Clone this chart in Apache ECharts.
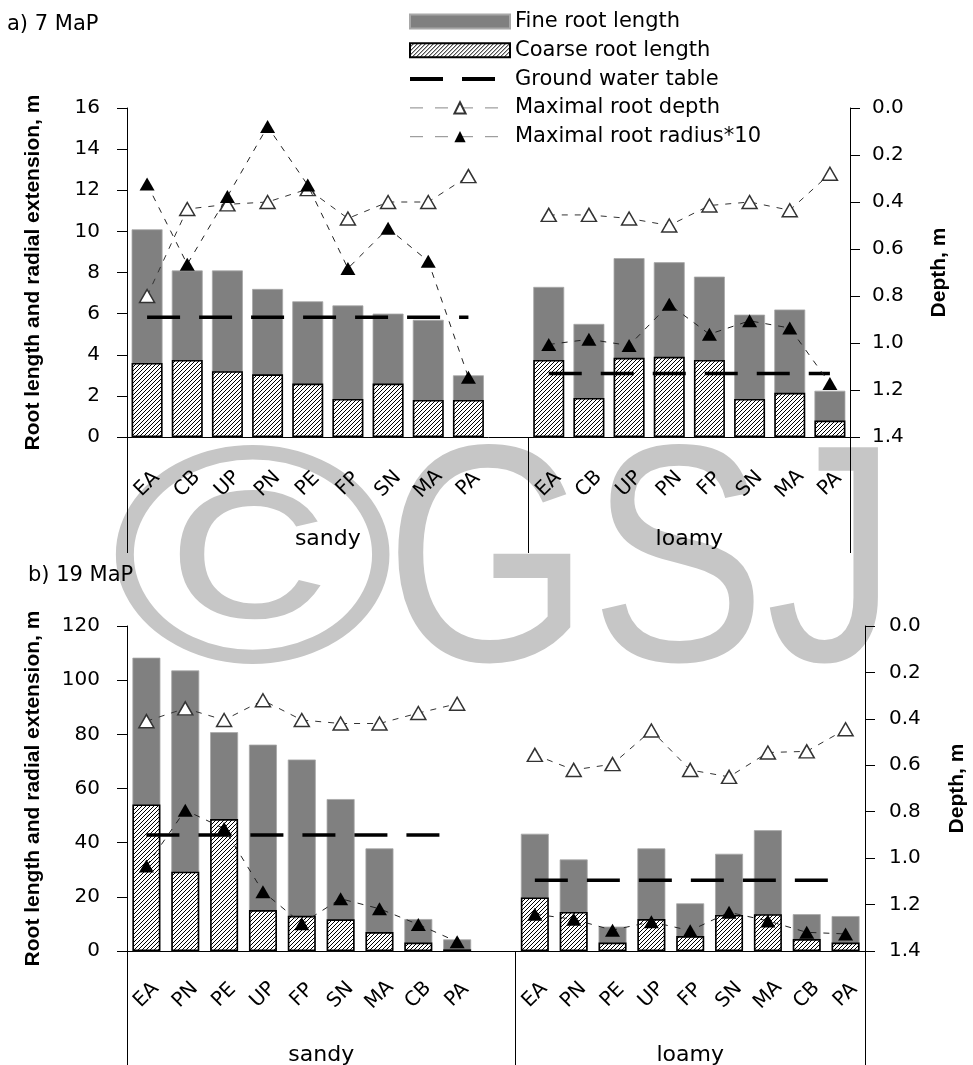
<!DOCTYPE html>
<html><head><meta charset="utf-8">
<script src="https://cdn.jsdelivr.net/npm/echarts@6/dist/echarts.min.js"></script>
<style>html,body{margin:0;padding:0;background:#fff}#c{width:973px;height:1065px}</style>
</head><body><div id="c"></div>
<script>
// ---------- data: panel a) 7 MaP ----------
const catsA   = ['EA','CB','UP','PN','PE','FP','SN','MA','PA','','EA','CB','UP','PN','FP','SN','MA','PA'];
const fineA   = [10.1, 8.1, 8.1, 7.2, 6.6, 6.4, 6.0, 5.7, 3.0, null, 7.3, 5.5, 8.7, 8.5, 7.8, 5.95, 6.2, 2.25];
const coarseA = [3.6, 3.75, 3.2, 3.05, 2.6, 1.85, 2.6, 1.8, 1.8, null, 3.75, 1.9, 3.85, 3.9, 3.75, 1.85, 2.15, 0.8];
const radiusA = [12.3, 8.4, 11.7, 15.1, 12.25, 8.2, 10.15, 8.55, 2.9, null, 4.5, 4.75, 4.45, 6.45, 5.0, 5.65, 5.3, 2.6];
const depthA  = [0.80, 0.43, 0.41, 0.40, 0.345, 0.47, 0.40, 0.40, 0.29, null, 0.455, 0.455, 0.47, 0.50, 0.415, 0.40, 0.435, 0.28];
const gwA     = [0.89, 0.89, 0.89, 0.89, 0.89, 0.89, 0.89, 0.89, 0.89, null, 1.13, 1.13, 1.13, 1.13, 1.13, 1.13, 1.13, 1.13];
const groupsA = ['sandy', 'loamy'];
const groupBoundsA = [0, 10, 18];
const groupMidA = [5, 14];

// ---------- data: panel b) 19 MaP ----------
const catsB   = ['EA','PN','PE','UP','FP','SN','MA','CB','PA','','EA','PN','PE','UP','FP','SN','MA','CB','PA'];
const fineB   = [108.3, 103.6, 80.8, 76.2, 70.7, 56.1, 37.9, 11.8, 4.3, null, 43.3, 33.8, 9.0, 37.9, 17.6, 35.9, 44.6, 13.6, 12.9];
const coarseB = [54.1, 29.3, 48.7, 15.1, 13.0, 11.7, 7.0, 3.1, 0.6, null, 19.8, 14.4, 3.1, 11.8, 5.5, 13.3, 13.6, 4.4, 3.1];
const radiusB = [31.4, 52.0, 45.2, 21.9, 10.1, 19.3, 15.6, 9.8, 3.4, null, 13.6, 11.7, 7.7, 10.8, 7.5, 14.3, 11.1, 6.9, 6.3];
const depthB  = [0.41, 0.355, 0.405, 0.32, 0.405, 0.42, 0.42, 0.375, 0.335, null, 0.555, 0.62, 0.595, 0.45, 0.62, 0.65, 0.545, 0.54, 0.445];
const gwB     = [0.90, 0.90, 0.90, 0.90, 0.90, 0.90, 0.90, 0.90, 0.90, null, 1.095, 1.095, 1.095, 1.095, 1.095, 1.095, 1.095, 1.095, 1.095];
const groupsB = ['sandy', 'loamy'];
const groupBoundsB = [0, 10, 19];
const groupMidB = [5, 14.5];

const names = ['Fine root length', 'Coarse root length', 'Ground water table', 'Maximal root depth', 'Maximal root radius*10'];
const titles = ['a) 7 MaP', 'b) 19 MaP'];
const leftName = 'Root length and radial extension, m';
const rightName = 'Depth, m';

// ---------- styles ----------
const HF = 'DejaVu Sans';
const VF = 'Liberation Sans';
function hatch() {
  const c = document.createElement('canvas'); c.width = 4; c.height = 4;
  const g = c.getContext('2d');
  g.fillStyle = '#fff'; g.fillRect(0, 0, 4, 4);
  g.strokeStyle = '#000'; g.lineWidth = 1;
  g.beginPath();
  g.moveTo(-1, 5); g.lineTo(5, -1);
  g.moveTo(-1, 1); g.lineTo(1, -1);
  g.moveTo(3, 5); g.lineTo(5, 3);
  g.stroke();
  return c;
}
const hatchFill = { image: hatch(), repeat: 'repeat' };

function catAxis(grid, cats, margin) {
  return {
    type: 'category', gridIndex: grid, data: cats, position: 'bottom',
    axisLine: { show: true, onZero: false, lineStyle: { color: '#000', width: 1 } },
    axisTick: { show: false },
    axisLabel: { interval: 0, rotate: 45, align: 'center', verticalAlign: 'middle', margin: margin,
      fontFamily: HF, fontSize: 20, color: '#000' },
    splitLine: { show: false }
  };
}
function groupAxis(grid, max, bounds, mids, groups, tickLen, margin) {
  return {
    type: 'value', gridIndex: grid, position: 'bottom', min: 0, max: max,
    axisLine: { show: false, onZero: false }, splitLine: { show: false },
    axisTick: { show: true, inside: false, customValues: bounds, length: tickLen, lineStyle: { color: '#000', width: 1 } },
    axisLabel: { customValues: mids, margin: margin, fontFamily: HF, fontSize: 22, color: '#000',
      formatter: (v) => groups[mids.indexOf(v)] }
  };
}
function leftAxis(grid, max, interval, gap) {
  return {
    type: 'value', gridIndex: grid, position: 'left', min: 0, max: max, interval: interval,
    name: leftName, nameLocation: 'middle', nameRotate: 90, nameGap: gap, nameMoveOverlap: false,
    nameTextStyle: { fontFamily: VF, fontWeight: 'bold', fontSize: 21, color: '#000' },
    axisLine: { show: true, onZero: false, lineStyle: { color: '#000', width: 1 } },
    axisTick: { show: true, length: 10, lineStyle: { color: '#000' } },
    axisLabel: { margin: 27, fontFamily: HF, fontSize: 20, color: '#000' },
    splitLine: { show: false }
  };
}
function rightAxis(grid, gap, margin) {
  return {
    type: 'value', gridIndex: grid, position: 'right', min: 0, max: 1.4, interval: 0.2, inverse: true,
    name: rightName, nameLocation: 'middle', nameRotate: 90, nameGap: gap, nameMoveOverlap: false,
    nameTextStyle: { fontFamily: VF, fontWeight: 'bold', fontSize: 21, color: '#000' },
    axisLine: { show: true, onZero: false, lineStyle: { color: '#000', width: 1 } },
    axisTick: { show: true, length: 10, lineStyle: { color: '#000' } },
    axisLabel: { margin: margin, fontFamily: HF, fontSize: 20, color: '#000', formatter: v => v.toFixed(1) },
    splitLine: { show: false }
  };
}
function panelSeries(xi, yl, yr, fine, coarse, gw, depth, radius, bw) {
  return [
    { name: names[0], type: 'bar', xAxisIndex: xi, yAxisIndex: yl, data: fine, barWidth: bw, barGap: '-100%',
      itemStyle: { color: '#808080', borderColor: '#a8a8a8', borderWidth: 0.8 }, z: 2 },
    { name: names[1], type: 'bar', xAxisIndex: xi, yAxisIndex: yl, data: coarse, barWidth: bw, barGap: '-100%',
      itemStyle: { color: hatchFill, borderColor: '#000', borderWidth: 1.6 }, z: 2 },
    { name: names[2], type: 'line', xAxisIndex: xi, yAxisIndex: yr, data: gw, symbol: 'circle', showSymbol: false,
      itemStyle: { color: 'rgba(0,0,0,0)' }, lineStyle: { color: '#000', width: 3.5, type: [33, 19] }, z: 4 },
    { name: names[3], type: 'line', xAxisIndex: xi, yAxisIndex: yr, data: depth, symbol: 'triangle', symbolSize: [15, 13],
      itemStyle: { color: '#fff', borderColor: '#333', borderWidth: 1.5 },
      lineStyle: { color: '#333', width: 1, type: [6, 7] }, z: 5 },
    { name: names[4], type: 'line', xAxisIndex: xi, yAxisIndex: yl, data: radius, symbol: 'triangle', symbolSize: [15, 13],
      itemStyle: { color: '#000' }, lineStyle: { color: '#222', width: 1, type: [6, 7] }, z: 6 }
  ];
}

const chart = echarts.init(document.getElementById('c'), null, { renderer: 'canvas' });
chart.setOption({
  animation: false,
  backgroundColor: '#fff',
  title: [
    { text: titles[0], left: 7, top: 14, padding: 0, textStyle: { fontFamily: HF, fontSize: 21, fontWeight: 'normal', color: '#000' } },
    { text: titles[1], left: 28, top: 565, padding: 0, textStyle: { fontFamily: HF, fontSize: 21, fontWeight: 'normal', color: '#000' } }
  ],
  legend: {
    orient: 'vertical', left: 408, top: 11, padding: 0, itemWidth: 100, itemHeight: 14, itemGap: 7.8,
    textStyle: { fontFamily: HF, fontSize: 21, color: '#000' },
    data: [
      { name: names[0], icon: 'rect' },
      { name: names[1], icon: 'rect' },
      { name: names[2], lineStyle: { width: 4, color: '#000', type: [33, 19] } },
      { name: names[3], lineStyle: { width: 1, color: '#888', type: [13, 12] } },
      { name: names[4], lineStyle: { width: 1, color: '#888', type: [13, 12] } }
    ],
    selectedMode: false
  },
  graphic: [
    { type: 'text', x: 110, y: 576, scaleX: 1.25, z: -10, silent: true,
      style: { text: '\u00a9', font: '310px "Liberation Sans"', fill: '#c6c6c6', align: 'left', verticalAlign: 'middle' } },
    { type: 'text', x: 385, y: 575, scaleX: 0.85, z: -10, silent: true,
      style: { text: 'GSJ', font: '310px "Liberation Sans"', fill: '#c6c6c6', align: 'left', verticalAlign: 'middle' } }
  ],
  grid: [
    { left: 127, top: 108, width: 723, height: 329, containLabel: false, outerBoundsMode: 'none' },
    { left: 127, top: 626, width: 738, height: 325, containLabel: false, outerBoundsMode: 'none' }
  ],
  xAxis: [
    catAxis(0, catsA, 47),
    groupAxis(0, 18, groupBoundsA, groupMidA, groupsA, 116, 91),
    catAxis(1, catsB, 44),
    groupAxis(1, 19, groupBoundsB, groupMidB, groupsB, 114, 93)
  ],
  yAxis: [
    leftAxis(0, 16, 2, 83),
    rightAxis(0, 79, 22),
    leftAxis(1, 120, 20, 83),
    rightAxis(1, 82, 24)
  ],
  series: [].concat(
    panelSeries(0, 0, 1, fineA, coarseA, gwA, depthA, radiusA, '77%'),
    panelSeries(2, 2, 3, fineB, coarseB, gwB, depthB, radiusB, '72%')
  )
});
</script></body></html>
